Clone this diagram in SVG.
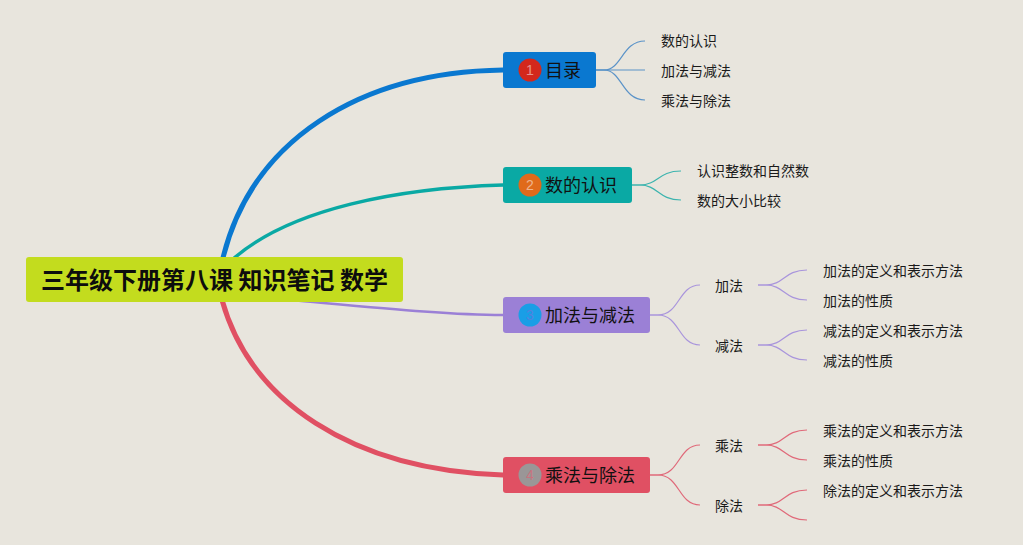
<svg xmlns="http://www.w3.org/2000/svg" width="1023" height="545" viewBox="0 0 1023 545">
<style>
.bg{fill:#e8e5dd}
.t{font-family:"Noto Sans CJK SC","Noto Sans",sans-serif;fill:#1a1a1a}
.root{font-size:24px;font-weight:bold;fill:#0d0d0d}
.main{font-size:18px;fill:#111}
.sub{font-size:14px}
.badge{font-family:"Liberation Sans",sans-serif;font-size:14px;text-anchor:middle;fill:rgba(255,255,255,0.5)}
.c{fill:none;stroke-linecap:round}
</style>
<rect class="bg" x="0" y="0" width="1023" height="545"/>
<g id="connectors">
  <path class="c" d="M222,262 C250,140 360,72 503,70" stroke="#0a78d0" stroke-width="5"/>
  <path class="c" d="M232,260 C290,208 400,188 503,185" stroke="#0aa9a4" stroke-width="3.5"/>
  <path class="c" d="M290,300 C380,308 450,315 503,315" stroke="#9b80d6" stroke-width="2.5"/>
  <path class="c" d="M222,300 C250,400 350,470 503,475" stroke="#e05063" stroke-width="5"/>
  <g stroke="#5b93c8" stroke-width="1.2" fill="none">
    <path d="M596,70 L604,70 C622,70 622,41 645,41"/>
    <path d="M596,70 L645,70"/>
    <path d="M596,70 L604,70 C622,70 622,100 645,100"/>
  </g>
  <g stroke="#3cb4ae" stroke-width="1.2" fill="none">
    <path d="M632,185 L640,185 C658,185 658,171 681,171"/>
    <path d="M632,185 L640,185 C658,185 658,200 681,200"/>
  </g>
  <g stroke="#a995dc" stroke-width="1.2" fill="none">
    <path d="M650,315 L658,315 C680,315 678,285 700,285"/>
    <path d="M650,315 L658,315 C680,315 678,345 700,345"/>
    <path d="M758,285 L766,285 C784,285 784,270 807,270"/>
    <path d="M758,285 L766,285 C784,285 784,300 807,300"/>
    <path d="M758,345 L766,345 C784,345 784,330 807,330"/>
    <path d="M758,345 L766,345 C784,345 784,360 807,360"/>
  </g>
  <g stroke="#e06a7a" stroke-width="1.2" fill="none">
    <path d="M650,475 L658,475 C680,475 678,445 700,445"/>
    <path d="M650,475 L658,475 C680,475 678,505 700,505"/>
    <path d="M758,445 L766,445 C784,445 784,430 807,430"/>
    <path d="M758,445 L766,445 C784,445 784,460 807,460"/>
    <path d="M758,505 L766,505 C784,505 784,490 807,490"/>
    <path d="M758,505 L766,505 C784,505 784,520 807,520"/>
  </g>
</g>
<g id="root">
  <rect x="26" y="257" width="377" height="45" rx="3" fill="#c3dc1e"/>
  <text class="t root" x="214.5" y="288.5" text-anchor="middle">三年级下册第八课 知识笔记 数学</text>
</g>
<g id="n1">
  <rect x="503" y="52" width="93" height="36" rx="3" fill="#0a78d0"/>
  <circle cx="530" cy="70" r="11.5" fill="#d3281c"/>
  <text class="badge" x="530" y="75">1</text>
  <text class="t main" x="545" y="77">目录</text>
</g>
<g id="n1a"><text class="t sub" x="661" y="46">数的认识</text></g>
<g id="n1b"><text class="t sub" x="661" y="76">加法与减法</text></g>
<g id="n1c"><text class="t sub" x="661" y="106">乘法与除法</text></g>
<g id="n2">
  <rect x="503" y="167" width="129" height="36" rx="3" fill="#0aa9a4"/>
  <circle cx="530" cy="185" r="11.5" fill="#e06a1a"/>
  <text class="badge" x="530" y="190">2</text>
  <text class="t main" x="545" y="192">数的认识</text>
</g>
<g id="n2a"><text class="t sub" x="697" y="176">认识整数和自然数</text></g>
<g id="n2b"><text class="t sub" x="697" y="206">数的大小比较</text></g>
<g id="n3">
  <rect x="503" y="297" width="147" height="36" rx="3" fill="#9b80d6"/>
  <circle cx="530" cy="315" r="11.5" fill="#1a9ee6"/>
  <text class="badge" x="530" y="320" style="fill:rgba(120,110,220,0.6)">3</text>
  <text class="t main" x="545" y="322">加法与减法</text>
</g>
<g id="n3a"><text class="t sub" x="715" y="291">加法</text></g>
<g id="n3a1"><text class="t sub" x="823" y="276">加法的定义和表示方法</text></g>
<g id="n3a2"><text class="t sub" x="823" y="306">加法的性质</text></g>
<g id="n3b"><text class="t sub" x="715" y="351">减法</text></g>
<g id="n3b1"><text class="t sub" x="823" y="336">减法的定义和表示方法</text></g>
<g id="n3b2"><text class="t sub" x="823" y="366">减法的性质</text></g>
<g id="n4">
  <rect x="503" y="457" width="147" height="36" rx="3" fill="#e05063"/>
  <circle cx="530" cy="475" r="11.5" fill="#9a9697"/>
  <text class="badge" x="530" y="480" style="fill:rgba(230,90,110,0.6)">4</text>
  <text class="t main" x="545" y="482">乘法与除法</text>
</g>
<g id="n4a"><text class="t sub" x="715" y="451">乘法</text></g>
<g id="n4a1"><text class="t sub" x="823" y="436">乘法的定义和表示方法</text></g>
<g id="n4a2"><text class="t sub" x="823" y="466">乘法的性质</text></g>
<g id="n4b"><text class="t sub" x="715" y="511">除法</text></g>
<g id="n4b1"><text class="t sub" x="823" y="496">除法的定义和表示方法</text></g>
</svg>
